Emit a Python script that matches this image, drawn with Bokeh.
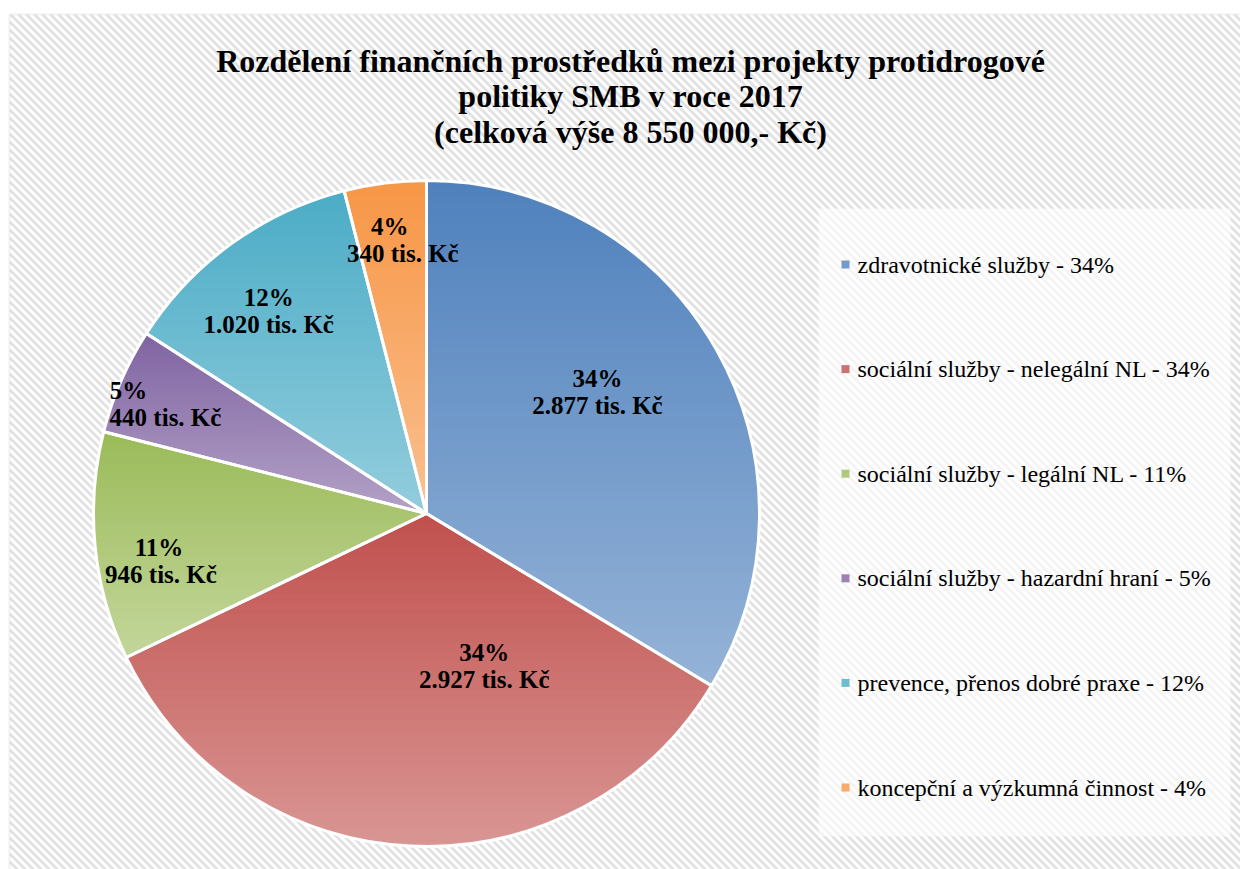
import numpy as np
from bokeh.plotting import figure
from bokeh.models import Range1d, BoxAnnotation, ColumnDataSource
from bokeh.core.properties import value
from bokeh.embed import file_html
from bokeh.resources import INLINE

# ---------------- data ----------------
categories = [
    "zdravotnické služby",
    "sociální služby - nelegální NL",
    "sociální služby - legální NL",
    "sociální služby - hazardní hraní",
    "prevence, přenos dobré praxe",
    "koncepční a výzkumná činnost",
]
amounts = [2877, 2927, 946, 440, 1020, 340]  # tis. Kč
title_lines = [
    "Rozdělení finančních prostředků mezi projekty protidrogové",
    "politiky SMB v roce 2017",
    "(celková výše 8 550 000,- Kč)",
]

# ---------------- style ----------------
top_colors = ["#4F81BD", "#C0504D", "#9BBB59", "#8064A2", "#4BACC6", "#F79646"]
bottom_colors = ["#95B3D7", "#D99694", "#C3D69B", "#B3A2C7", "#93CDDD", "#FAC090"]
label_r = [0.63, 0.49, 0.81, 0.85, 0.77, 0.823]
label_shift_deg = [-6.0, -23.5, -4.4, -0.7, -2.2, 2.2]
pct_dx = [0, 0, -2, -37, 0, -13]

W, H = 1240, 869
CX, CY, R = 426.0, H - 513.0, 333.0
SERIF = value("Liberation Serif")

p = figure(width=W, height=H, output_backend="svg", toolbar_location=None,
           x_range=Range1d(0, W), y_range=Range1d(0, H), min_border=0)
p.axis.visible = False
p.grid.visible = False
p.outline_line_color = None
p.background_fill_color = "white"

# ---- chart area background: diagonal stripes ----
BL, BT = 9.0, H - 14.0
period = 8.0
x0s, y0s, x1s, y1s = [], [], [], []
for c in np.arange(BL, W + BT + period, period):
    xa = max(BL, c - BT)
    xb = min(W + 2.0, c + 2.0)
    if xa < xb:
        x0s.append(xa); y0s.append(c - xa)
        x1s.append(xb); y1s.append(c - xb)
p.segment(x0=x0s, y0=y0s, x1=x1s, y1=y1s, line_color="#e2e2e2", line_width=2.8)
# legend area (lighter)
p.quad(left=[818], right=[1230], top=[H - 208], bottom=[H - 836],
       fill_color="white", fill_alpha=0.62, line_color=None)
# margins outside the chart area and its border
p.add_layout(BoxAnnotation(right=BL, fill_color="white", fill_alpha=1, line_alpha=0))
p.add_layout(BoxAnnotation(bottom=BT, fill_color="white", fill_alpha=1, line_alpha=0))
p.add_layout(BoxAnnotation(left=BL, right=W + 20, top=BT, bottom=-20,
                           fill_alpha=0, line_color="#d2d2d2", line_width=2))

def hex2rgb(h):
    h = h.lstrip("#")
    return np.array([int(h[i:i + 2], 16) for i in (0, 2, 4)], dtype=float)

def rgb2hex(c):
    c = np.clip(np.round(c), 0, 255).astype(int)
    return "#%02x%02x%02x" % tuple(c)

def clip_half(pts, yc, above):
    out = []
    n = len(pts)
    for i in range(n):
        p1 = pts[i]
        p2 = pts[(i + 1) % n]
        in1 = p1[1] >= yc if above else p1[1] <= yc
        in2 = p2[1] >= yc if above else p2[1] <= yc
        if in1:
            out.append(p1)
        if in1 != in2:
            t = (yc - p1[1]) / (p2[1] - p1[1])
            out.append((p1[0] + t * (p2[0] - p1[0]), yc))
    return out

total = float(sum(amounts))
cum = np.concatenate([[0.0], np.cumsum(amounts)])
start_ang = np.pi / 2 - 2 * np.pi * cum[:-1] / total
end_ang = np.pi / 2 - 2 * np.pi * cum[1:] / total

band_xs, band_ys, band_cols = [], [], []
NB = 70
for i in range(len(amounts)):
    th = np.linspace(start_ang[i], end_ang[i], 240)
    poly = [(CX, CY)] + [(CX + R * np.cos(t), CY + R * np.sin(t)) for t in th]
    ys_all = [q[1] for q in poly]
    ymin, ymax = min(ys_all), max(ys_all)
    c0, c1 = hex2rgb(top_colors[i]), hex2rgb(bottom_colors[i])
    edges = np.linspace(ymin, ymax, NB + 1)
    for k in range(NB):
        lo, hi = edges[k] - 0.6, edges[k + 1] + 0.6
        part = clip_half(clip_half(poly, lo, True), hi, False)
        if len(part) < 3:
            continue
        mid = 0.5 * (edges[k] + edges[k + 1])
        f = (ymax - mid) / (ymax - ymin)
        band_xs.append([q[0] for q in part])
        band_ys.append([q[1] for q in part])
        band_cols.append(rgb2hex(c0 + (c1 - c0) * f))

p.patches(xs=band_xs, ys=band_ys, fill_color=band_cols, line_color=None)

# white separators / outline
p.wedge(x=[CX] * len(amounts), y=[CY] * len(amounts), radius=R,
        start_angle=list(end_ang), end_angle=list(start_ang),
        fill_color=None, line_color="white", line_width=3)

# data labels
pct = [f"{round(100 * a / total)}%" for a in amounts]
val_txt = [f"{a:,}".replace(",", ".") + " tis. Kč" for a in amounts]
mid_deg = 360 * (cum[:-1] + cum[1:]) / 2 / total
lab_ang = np.radians(90 - (mid_deg + np.array(label_shift_deg)))
lx = CX + R * np.array(label_r) * np.cos(lab_ang)
ly = CY + R * np.array(label_r) * np.sin(lab_ang)
lab_src = ColumnDataSource(dict(x1=lx + np.array(pct_dx), x2=lx, y1=ly + 13.5, y2=ly - 13.5,
                                pct=pct, val=val_txt))
for col, xcol, ycol in (("pct", "x1", "y1"), ("val", "x2", "y2")):
    p.text(x=xcol, y=ycol, text=col, source=lab_src, text_font=SERIF,
           text_font_style="bold", text_font_size="25px", text_align="center",
           text_baseline="middle", text_color="black")

# title
ty = [H - 60, H - 95, H - 131]
p.text(x=[630] * 3, y=ty, text=title_lines, text_font=SERIF, text_font_style="bold",
       text_font_size="32px", text_align="center", text_baseline="middle",
       text_color="black")

# legend
leg_y = H - 264 - np.arange(len(categories)) * 104.6
leg_cols = [rgb2hex((hex2rgb(a) + hex2rgb(b)) / 2) for a, b in zip(top_colors, bottom_colors)]
leg_txt = [f"{c} - {q}" for c, q in zip(categories, pct)]
p.scatter(x=[845] * len(categories), y=leg_y, marker="square", size=8,
          fill_color=leg_cols, line_color=None)
p.text(x=[857] * len(categories), y=leg_y, text=leg_txt, text_font=SERIF,
       text_font_size="24px", text_align="left", text_baseline="middle",
       text_color="black")

open("out.html", "w").write(file_html(p, INLINE))
